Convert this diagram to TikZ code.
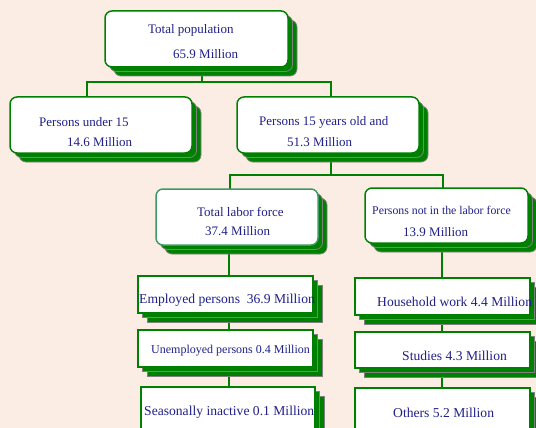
\documentclass[tikz,border=0pt]{standalone}
\usepackage{fontspec}
\setmainfont{Liberation Serif}
\usetikzlibrary{shadows,backgrounds}
\definecolor{bgc}{HTML}{FCEDE4}
\definecolor{grn}{HTML}{008000}
\definecolor{lgrn}{HTML}{3C9A64}
\definecolor{txt}{HTML}{202088}
\tikzset{
 box/.style={draw=grn, line width=1.5pt, fill=white, inner sep=0pt,
   double copy shadow={shadow xshift=4.5pt, shadow yshift=-4.5pt, fill=grn, draw=gray, line width=0.8pt}},
 rbox/.style={box, rounded corners=7pt},
 lbl/.style={text=txt, anchor=west, inner sep=0pt, font=\fontsize{13}{15}\selectfont},
 lblb/.style={lbl, font=\fontsize{13.6}{15}\selectfont},
 conn/.style={draw=grn, line width=1.8pt},
}
\begin{document}
\begin{tikzpicture}[x=1pt,y=-1pt]
\useasboundingbox (0,0) rectangle (536,428);
\clip (0,0) rectangle (536,428);
% boxes
\node[rbox, minimum width=183pt, minimum height=56pt] (tp) at (196.5,39) {};
\node[rbox, minimum width=182pt, minimum height=56pt] (pu) at (101,125) {};
\node[rbox, minimum width=182pt, minimum height=56pt] (p15) at (328,125) {};
\node[rbox, draw=lgrn, minimum width=162pt, minimum height=56pt] (tl) at (237,217) {};
\node[rbox, minimum width=163pt, minimum height=55pt] (pn) at (446.5,215.5) {};
\node[box, minimum width=175pt, minimum height=37pt] (ep) at (225.5,294.5) {};
\node[box, minimum width=175pt, minimum height=37pt] (un) at (225.5,348.5) {};
\node[box, minimum width=174pt, minimum height=53pt] (si) at (228,413.5) {};
\node[box, minimum width=175pt, minimum height=37pt] (hw) at (442.5,296.5) {};
\node[box, minimum width=175pt, minimum height=36pt] (st) at (442.5,350) {};
\node[box, minimum width=175pt, minimum height=52pt] (ot) at (442.5,414) {};
% labels
\node[lbl] (t1a) at (148,30) {Total population};
\node[lbl] (t1b) at (173,54) {65.9 Million};
\node[lbl] (t2a) at (39,122) {Persons under 15};
\node[lbl] (t2b) at (67,142) {14.6 Million};
\node[lbl] (t3a) at (259,122) {Persons 15 years old and};
\node[lbl] (t3b) at (287,142) {51.3 Million};
\node[lbl] (t4a) at (197,212) {Total labor force};
\node[lbl] (t4b) at (205,231) {37.4 Million};
\node[lbl, font=\fontsize{11.8}{14}\selectfont] (t5a) at (372,210) {Persons not in the labor force};
\node[lbl] (t5b) at (403,232) {13.9 Million};
\node[lblb] (t6) at (139,300) {Employed persons~~36.9 Million};
\node[lbl, font=\fontsize{12}{14}\selectfont] (t7) at (151,351) {Unemployed persons 0.4 Million};
\node[lblb] (t8) at (144,412) {Seasonally inactive 0.1 Million};
\node[lblb] (t9) at (377,302) {Household work 4.4 Million};
\node[lblb] (t10) at (402,356) {Studies 4.3 Million};
\node[lblb] (t11) at (393,413) {Others 5.2 Million};
% background and connectors
\begin{pgfonlayer}{background}
\fill[bgc] (0,0) rectangle (536,428);
\coordinate (j1) at (202,82);
\coordinate (j1l) at (87,82);
\coordinate (j1r) at (331,82);
\draw[conn] (j1 |- tp.center) -- (j1);
\draw[conn] (j1l |- pu.center) -- (j1l) -- (j1r) -- (j1r |- p15.center);
\coordinate (j2) at (331,175);
\coordinate (j2l) at (230,175);
\coordinate (j2r) at (443,175);
\draw[conn] (j2 |- p15.center) -- (j2);
\draw[conn] (j2l |- tl.center) -- (j2l) -- (j2r) -- (j2r |- pn.center);
\coordinate (c1) at (229,0);
\coordinate (c2) at (442,0);
\draw[conn] (c1 |- tl.center) -- (c1 |- si.center);
\draw[conn] (c2 |- pn.center) -- (c2 |- ot.center);
\end{pgfonlayer}
\end{tikzpicture}
\end{document}
